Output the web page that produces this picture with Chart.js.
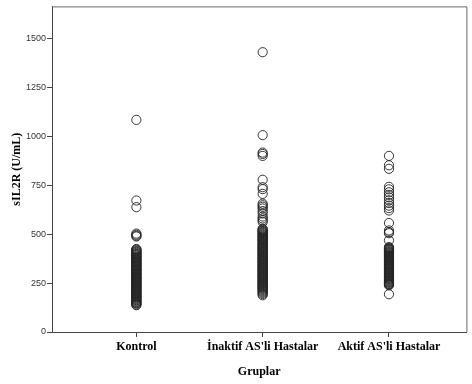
<!DOCTYPE html>
<html>
<head>
<meta charset="utf-8">
<script src="https://cdn.jsdelivr.net/npm/chart.js@4/dist/chart.umd.min.js"></script>
<style>
  html, body { margin: 0; padding: 0; background: #ffffff; }
  #wrap { width: 472px; height: 384px; }
</style>
</head>
<body>
<div id="wrap"><canvas id="c" width="472" height="384"></canvas></div>
<script>
// Group names along the x axis
const categories = ["Kontrol", "İnaktif AS'li Hastalar", "Aktif AS'li Hastalar"];

// sIL2R (U/mL) per subject, by group
const kontrolValues = [1084, 672, 638, 503, 497, 492, 488,
  424, 421, 417, 413, 410, 405, 401, 398, 394, 391, 386, 382, 380, 376,
  371, 368, 365, 361, 358, 354, 350, 347, 344, 340, 337, 333, 330, 326,
  322, 319, 316, 313, 310, 305, 301, 298, 296, 292, 288, 284, 281, 278,
  275, 271, 268, 265, 262, 258, 255, 251, 248, 244, 240, 237, 234, 230,
  226, 223, 219, 215, 212, 208, 205, 201, 198, 194, 190, 186, 182, 179,
  176, 172, 168, 163, 160, 155, 152, 148, 145, 140, 137];

const inaktifValues = [1430, 1006, 917, 910, 900, 778, 740, 730, 706,
  656, 648, 640, 631, 618, 606, 590, 580, 571, 562,
  528, 524, 520, 516, 512, 508, 505, 500, 497, 492, 488, 484, 480, 476,
  472, 468, 465, 460, 455, 451, 447, 443, 440, 435, 431, 428, 424, 419,
  415, 411, 408, 404, 400, 396, 392, 388, 384, 380, 376, 373, 370, 366,
  362, 358, 355, 351, 347, 343, 340, 336, 332, 328, 325, 321, 318, 314,
  310, 306, 302, 298, 295, 291, 287, 283, 280, 276, 272, 268, 265, 261,
  257, 253, 250, 246, 242, 238, 235, 231, 228, 224, 220, 215, 210, 205, 200, 194, 188];

const aktifValues = [900, 852, 834, 742, 729, 714, 701, 688, 673, 659,
  646, 633, 621, 557, 519, 510, 505, 468,
  434, 430, 427, 423, 420, 416, 412, 408, 405, 401, 398, 394, 390, 387,
  383, 379, 376, 372, 368, 364, 360, 356, 352, 349, 345, 341, 338, 334,
  330, 326, 322, 318, 314, 310, 306, 302, 298, 294, 290, 286, 282, 278,
  275, 271, 268, 264, 260, 256, 252, 248, 245, 242, 239, 193];

// Value axis tick labels
const yTickValues = [0, 250, 500, 750, 1000, 1250, 1500];

const groups = [kontrolValues, inaktifValues, aktifValues];

const datasets = groups.map((vals, i) => ({
  label: categories[i],
  data: vals.map(v => ({ x: i + 1, y: v })),
  pointStyle: 'circle',
  pointRadius: 4.6,
  pointBorderWidth: 1,
  pointBackgroundColor: 'rgba(0,0,0,0)',
  pointBorderColor: 'rgba(35,35,35,0.9)',
  showLine: false
}));

// Thin frame along the top and right of the plot area
const framePlugin = {
  id: 'frame',
  afterDraw(chart) {
    const { ctx, chartArea: a } = chart;
    ctx.save();
    ctx.strokeStyle = '#6a6a6a';
    ctx.lineWidth = 1;
    ctx.beginPath();
    ctx.moveTo(a.left, a.top + 0.5);
    ctx.lineTo(a.right + 0.5, a.top + 0.5);
    ctx.lineTo(a.right + 0.5, a.bottom);
    ctx.stroke();
    ctx.restore();
  }
};

new Chart(document.getElementById('c'), {
  type: 'scatter',
  data: { datasets },
  plugins: [framePlugin],
  options: {
    responsive: false,
    animation: false,
    devicePixelRatio: 1,
    layout: { padding: { top: 5, right: 1, bottom: 0, left: 0 } },
    plugins: { legend: { display: false }, tooltip: { enabled: false } },
    scales: {
      x: {
        type: 'linear',
        min: 0.332,
        max: 3.613,
        afterBuildTicks(scale) {
          scale.ticks = categories.map((_, i) => ({ value: i + 1 }));
        },
        afterFit(scale) { scale.height = 52; },
        ticks: {
          autoSkip: false,
          maxRotation: 0,
          padding: 3,
          color: '#000',
          font: { family: '"Liberation Serif"', size: 12, weight: 'bold' },
          callback: (v) => categories[Math.round(v) - 1] || ''
        },
        grid: { drawOnChartArea: false, drawTicks: true, tickLength: 5, color: '#444' },
        border: { display: true, color: '#444', width: 1 },
        title: {
          display: true,
          text: 'Gruplar',
          color: '#000',
          font: { family: '"Liberation Serif"', size: 12, weight: 'bold' },
          padding: { top: 0, bottom: 5 }
        }
      },
      y: {
        type: 'linear',
        min: 0,
        max: 1664,
        afterBuildTicks(scale) {
          scale.ticks = yTickValues.map(v => ({ value: v }));
        },
        afterFit(scale) { scale.width = 52; },
        ticks: {
          padding: 1,
          color: '#333',
          font: { family: '"Liberation Sans"', size: 9 },
          callback: (v) => String(v)
        },
        grid: { drawOnChartArea: false, drawTicks: true, tickLength: 5, color: '#444' },
        border: { display: true, color: '#444', width: 1 },
        title: {
          display: true,
          text: 'sIL2R (U/mL)',
          color: '#000',
          font: { family: '"Liberation Serif"', size: 12, weight: 'bold' },
          padding: { top: 10, bottom: 0 }
        }
      }
    }
  }
});
</script>
</body>
</html>
